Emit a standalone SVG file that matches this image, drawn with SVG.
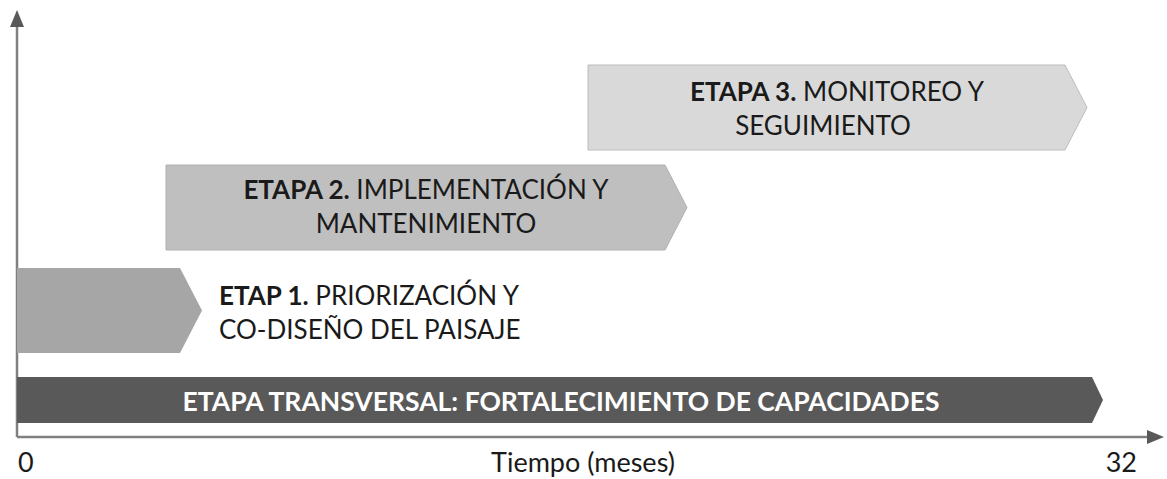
<svg xmlns="http://www.w3.org/2000/svg" width="1167" height="479" viewBox="0 0 1167 479">
<style>
.t{font-family:Lato,"Open Sans",sans-serif;font-size:26px;fill:#1a1a1a}
.b{font-weight:bold}
.ax{stroke:#808080;stroke-width:2.5;fill:none}
.al{font-size:27px}
</style>
<rect width="1167" height="479" fill="#fff"/>
<g id="connectors">
<line class="ax" x1="17" y1="437" x2="17" y2="26"/>
<path d="M10,27 L17,10 L24,27 Z" fill="#595959"/>
<line class="ax" x1="17" y1="437" x2="1148" y2="437"/>
<path d="M1147,430 L1164,437 L1147,444 Z" fill="#595959"/>
</g>
<g id="etapa3">
<path d="M588,65 L1065,65 L1087,107.5 L1065,150 L588,150 Z" fill="#d9d9d9" stroke="#bcbcbc" stroke-width="1"/>
<text class="t" x="837" y="101" text-anchor="middle"><tspan class="b">ETAPA 3.</tspan> MONITOREO Y</text>
<text class="t" x="823" y="135" text-anchor="middle">SEGUIMIENTO</text>
</g>
<g id="etapa2">
<path d="M166,165 L665,165 L687,207.5 L665,250 L166,250 Z" fill="#bfbfbf" stroke="#b0b0b0" stroke-width="1"/>
<text class="t" x="426" y="199" text-anchor="middle"><tspan class="b">ETAPA 2.</tspan> IMPLEMENTACIÓN Y</text>
<text class="t" x="426" y="233" text-anchor="middle">MANTENIMIENTO</text>
</g>
<g id="etapa1">
<path d="M17,268 L180,268 L202,310.5 L180,353 L17,353 Z" fill="#a6a6a6"/>
<text class="t" x="219" y="305"><tspan class="b">ETAP 1.</tspan> PRIORIZACIÓN Y</text>
<text class="t" x="219" y="339">CO-DISEÑO DEL PAISAJE</text>
</g>
<g id="transversal">
<path d="M17,377 L1092,377 L1103,400 L1092,423 L17,423 Z" fill="#595959"/>
<text class="t b" x="561" y="411" text-anchor="middle" style="fill:#fff;font-size:26.5px">ETAPA TRANSVERSAL: FORTALECIMIENTO DE CAPACIDADES</text>
</g>
<g id="labels">
<text class="t al" x="18" y="472">0</text>
<text class="t al" x="583" y="472" text-anchor="middle">Tiempo (meses)</text>
<text class="t al" x="1137" y="472" text-anchor="end">32</text>
</g>
</svg>
